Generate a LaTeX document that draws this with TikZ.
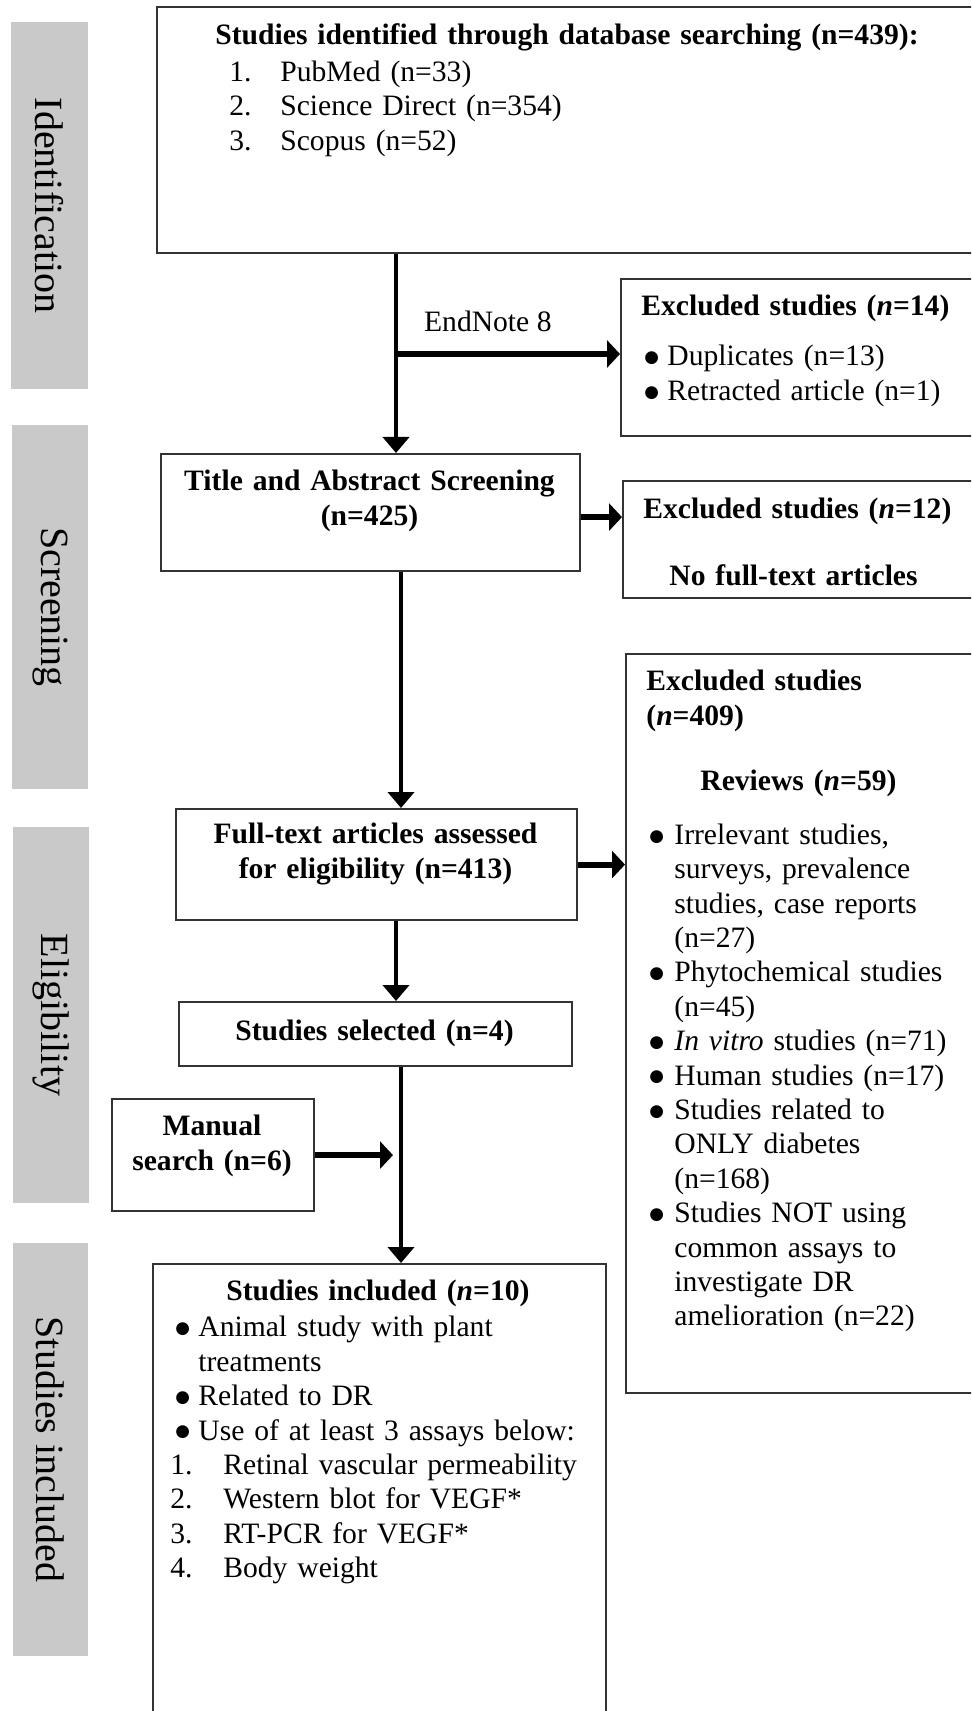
\documentclass[tikz,border=0pt]{standalone}
\usepackage{fontspec}
\setmainfont{Liberation Serif}
\newfontfamily\dotfont{DejaVu Sans}
\usepackage{tikz}
\usetikzlibrary{positioning, arrows.meta}
\definecolor{stagegray}{RGB}{201,201,201}
\newcommand{\blt}[1][11pt]{\makebox[#1][l]{\hspace*{-1.5pt}\raisebox{1.6pt}{\dotfont\fontsize{8.4pt}{8.4pt}\selectfont ●}}}
\newcommand{\nmb}[2][25.5pt]{\makebox[#1][l]{#2.}}
\tikzset{
  stage/.style={rectangle, fill=stagegray, rotate=-90, inner sep=0pt, font=\fontsize{20pt}{24pt}\selectfont},
  box/.style={rectangle, draw=black!80, line width=1.1pt, anchor=north west, inner sep=0pt},
  txt/.style={inner sep=0pt, anchor=north west, align=left, text width=170pt},
  ctxt/.style={inner sep=0pt, anchor=north, align=center, text width=200pt, font=\fontsize{14.8pt}{17.2pt}\selectfont\bfseries},
  arrow/.style={line width=2.2pt, -{Triangle[length=8pt, width=13pt]}},
  harrow/.style={line width=3pt, -{Triangle[length=6.5pt, width=13.5pt]}}
}

\begin{document}
\begin{tikzpicture}[x=0.5pt, y=-0.5pt, every node/.style={font=\fontsize{14.8pt}{17.2pt}\selectfont}]
        \useasboundingbox (0,0) rectangle (971,1711);
        \clip (0,0) rectangle (971,1711);

        \node (idbar) [stage, minimum width=183.5pt, minimum height=38.5pt] at (49.5,205.5) {Identification};
        \node (scrbar) [stage, minimum width=182pt, minimum height=38pt] at (50,607) {Screening};
        \node (elbar) [stage, minimum width=188pt, minimum height=38pt] at (51,1015) {Eligibility};
        \node (incbar) [stage, minimum width=206.5pt, minimum height=37.5pt] at (50.5,1449.5) {Studies included};

        \node (ident) [box, minimum width=414.5pt, minimum height=123pt] at (156,6) {};
        \node (excl1) [box, minimum width=182.5pt, minimum height=78.5pt] at (620,278) {};
        \node (title) [box, minimum width=209.5pt, minimum height=58.5pt] at (160,453) {};
        \node (excl2) [box, minimum width=181.5pt, minimum height=58.5pt] at (622,480) {};
        \node (rejected) [box, minimum width=180pt, minimum height=369.5pt] at (625,653) {};
        \node (fulltext) [box, minimum width=200.5pt, minimum height=55.5pt] at (175,808) {};
        \node (selected) [box, minimum width=196.5pt, minimum height=32pt] at (178,1001) {};
        \node (manual) [box, minimum width=101pt, minimum height=56pt] at (111,1098) {};
        \node (included) [box, minimum width=226.5pt, minimum height=231pt] at (152,1263) {};

        \node (identtxt) [txt, text width=360pt] at (215,23) {\textbf{Studies identified through database searching (n=439):}\\[1.3pt]
          \hspace*{7pt}\nmb{1}PubMed (n=33)\\
          \hspace*{7pt}\nmb{2}Science Direct (n=354)\\
          \hspace*{7pt}\nmb{3}Scopus (n=52)};
        \node (excl1txt) [txt] at (641,295) {\textbf{Excluded studies (\textit{n}=14)}\\[7.8pt]
          \hspace*{3pt}\blt[10pt]Duplicates (n=13)\\
          \hspace*{3pt}\blt[10pt]Retracted article (n=1)};
        \node (titletxt) [ctxt] at (369.5,470) {Title and Abstract Screening\\(n=425)};
        \node (excl2txt) [txt] at (643,498) {\textbf{Excluded studies (\textit{n}=12)}\\[16.3pt]
          \hspace*{13pt}\textbf{No full-text articles}};
        \node (rejectedtxt) [txt] at (646,670) {\textbf{Excluded studies}\\
          \textbf{(\textit{n}=409)}\\[15.3pt]
          \hspace*{27pt}\textbf{Reviews (\textit{n}=59)}\\[9.8pt]
          \hspace*{3pt}\blt Irrelevant studies,\\
          \hspace*{14pt}surveys, prevalence\\
          \hspace*{14pt}studies, case reports\\
          \hspace*{14pt}(n=27)\\
          \hspace*{3pt}\blt Phytochemical studies\\
          \hspace*{14pt}(n=45)\\
          \hspace*{3pt}\blt\textit{In vitro} studies (n=71)\\
          \hspace*{3pt}\blt Human studies (n=17)\\
          \hspace*{3pt}\blt Studies related to\\
          \hspace*{14pt}ONLY diabetes\\
          \hspace*{14pt}(n=168)\\
          \hspace*{3pt}\blt Studies NOT using\\
          \hspace*{14pt}common assays to\\
          \hspace*{14pt}investigate DR\\
          \hspace*{14pt}amelioration (n=22)};
        \node (fulltxt) [ctxt] at (375.5,823) {Full-text articles assessed\\for eligibility (n=413)};
        \node (selectedtxt) [ctxt] at (374.5,1020) {Studies selected (n=4)};
        \node (manualtxt) [ctxt, text width=100pt] at (212,1115) {Manual\\search (n=6)};
        \node (includedtxt) [txt, text width=225pt] at (170,1280) {\hspace*{28pt}\textbf{Studies included (\textit{n}=10)}\\[0.8pt]
          \hspace*{4pt}\blt[10pt]Animal study with plant\\
          \hspace*{14pt}treatments\\
          \hspace*{4pt}\blt[10pt]Related to DR\\
          \hspace*{4pt}\blt[10pt]Use of at least 3 assays below:\\
          \nmb[26.5pt]{1}Retinal vascular permeability\\
          \nmb[26.5pt]{2}Western blot for VEGF*\\
          \nmb[26.5pt]{3}RT-PCR for VEGF*\\
          \nmb[26.5pt]{4}Body weight};

        \coordinate (split) at (396,354);
        \coordinate (spine) at (401,0);
        \draw [arrow] (split |- ident.south) -- (split |- title.north);
        \draw [harrow] (split) -- node[pos=0.41, above=9.5pt, inner sep=0pt] (endnote) {EndNote 8} (split -| excl1.west);
        \draw [harrow] ([yshift=-2.25pt]title.east) -- ([yshift=-2.25pt]title.east -| excl2.west);
        \draw [arrow] (spine |- title.south) -- (spine |- fulltext.north);
        \draw [harrow] (fulltext.east) -- (fulltext.east -| rejected.west);
        \draw [arrow] (split |- fulltext.south) -- (split |- selected.north);
        \draw [arrow] (spine |- selected.south) -- (spine |- included.north);
        \draw [harrow] (manual.east) -- ([xshift=-4pt]manual.east -| spine);

    \end{tikzpicture}
\end{document}
